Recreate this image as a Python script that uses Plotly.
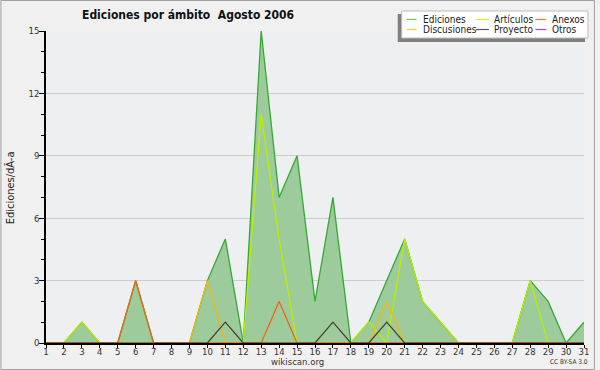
import plotly.graph_objects as go

days = list(range(1, 32))
ediciones   = [0,0,1,0,0,3,0,0,0,3,5,0,15,7,9,2,7,0,1,3,5,2,1,0,0,0,0,3,2,0,1]
articulos   = [0,0,1,0,0,0,0,0,0,0,0,0,11,5,0,0,0,0,1,0,5,2,1,0,0,0,0,3,0,0,0]
discusiones = [0,0,0,0,0,0,0,0,0,3,0,0,0,0,0,0,0,0,0,2,0,0,0,0,0,0,0,0,0,0,0]
anexos      = [0,0,0,0,0,3,0,0,0,0,0,0,0,2,0,0,0,0,0,0,0,0,0,0,0,0,0,0,0,0,0]
proyecto    = [0,0,0,0,0,0,0,0,0,0,1,0,0,0,0,0,1,0,0,1,0,0,0,0,0,0,0,0,0,0,0]
otros       = [0]*31

title = "Ediciones por ámbito  Agosto 2006"
ytitle = "Ediciones/dÃ-a"
legend_names = ["Ediciones", "Artículos", "Anexos", "Discusiones", "Proyecto", "Otros"]
legend_colors = ["#66cc66", "#ccee33", "#ff7733", "#ffcc33", "#555555", "#9944ff"]

FONT = "DejaVu Sans Condensed, DejaVu Sans, sans-serif"

W, H = 600, 370
L, R, T, B = 46, 11, 31, 27
PW, PH = W - L - R, H - T - B

def px(x):
    return (x - L) / PW

def py(y):
    return (H - B - y) / PH

fig = go.Figure()
fig.add_trace(go.Scatter(x=days, y=ediciones, mode="lines", fill="tozeroy",
                         fillcolor="#9dcb9b", line=dict(color="#33aa33", width=1.3),
                         name="Ediciones", showlegend=False))
fig.add_trace(go.Scatter(x=days, y=otros, mode="lines",
                         line=dict(color="#9944ff", width=1.2), name="Otros", showlegend=False))
fig.add_trace(go.Scatter(x=days, y=articulos, mode="lines",
                         line=dict(color="#bbee00", width=1.3), name="Artículos", showlegend=False))
fig.add_trace(go.Scatter(x=days, y=discusiones, mode="lines",
                         line=dict(color="#eebb11", width=1.3), name="Discusiones", showlegend=False))
fig.add_trace(go.Scatter(x=days, y=anexos, mode="lines",
                         line=dict(color="#ee6611", width=1.3), name="Anexos", showlegend=False))
fig.add_trace(go.Scatter(x=days, y=proyecto, mode="lines",
                         line=dict(color="#4a3a2a", width=1.2), name="Proyecto", showlegend=False))

shapes = []
annotations = []
# outer border
shapes.append(dict(type="rect", xref="paper", yref="paper",
                   x0=px(0.5), x1=px(599.5), y0=py(369.5), y1=py(0.5),
                   line=dict(color="#a0a0a0", width=1), fillcolor="rgba(0,0,0,0)", layer="above"))
# legend shadow + box
shapes.append(dict(type="rect", xref="paper", yref="paper",
                   x0=px(401), x1=px(590), y0=py(42), y1=py(14),
                   line=dict(width=0), fillcolor="#7f7f7f", layer="above"))
shapes.append(dict(type="rect", xref="paper", yref="paper",
                   x0=px(405), x1=px(593), y0=py(38), y1=py(11),
                   line=dict(color="#bbbbbb", width=1), fillcolor="#ffffff", layer="above"))
col_line = [(410, 420), (480, 493), (540, 551)]
col_text = [424, 496, 555]
row_y = [19.5, 29.5]
for i, (name, color) in enumerate(zip(legend_names, legend_colors)):
    r, c = divmod(i, 3)
    shapes.append(dict(type="line", xref="paper", yref="paper",
                       x0=px(col_line[c][0]), x1=px(col_line[c][1]),
                       y0=py(row_y[r]), y1=py(row_y[r]),
                       line=dict(color=color, width=1.2), layer="above"))
    annotations.append(dict(text=name, xref="paper", yref="paper",
                            x=px(col_text[c]), y=py(row_y[r]), xanchor="left", yanchor="middle",
                            showarrow=False, font=dict(family=FONT, size=10, color="#222222")))

annotations.append(dict(text="<b>" + title + "</b>", xref="paper", yref="paper",
                        x=px(189), y=py(15), xanchor="center", yanchor="middle",
                        showarrow=False, font=dict(family=FONT, size=12, color="#111111")))
annotations.append(dict(text="wikiscan.org", xref="paper", yref="paper",
                        x=px(300), y=py(361), xanchor="center", yanchor="middle",
                        showarrow=False, font=dict(family=FONT, size=9.5, color="#333333")))
annotations.append(dict(text="CC BY-SA 3.0", xref="paper", yref="paper",
                        x=px(574), y=py(362), xanchor="center", yanchor="middle",
                        showarrow=False, font=dict(family=FONT, size=6.5, color="#333333")))
annotations.append(dict(text=ytitle, xref="paper", yref="paper",
                        x=px(10), y=py(188), xanchor="center", yanchor="middle", textangle=-90,
                        showarrow=False, font=dict(family=FONT, size=11, color="#222222")))

fig.update_layout(
    width=W, height=H,
    margin=dict(l=L, r=R, t=T, b=B, pad=0),
    paper_bgcolor="#f0f0f0", plot_bgcolor="#eeeff1",
    font=dict(family=FONT, size=9, color="#333333"),
    shapes=shapes, annotations=annotations, showlegend=False,
)
fig.update_xaxes(range=[1, 31], tickmode="linear", tick0=1, dtick=1,
                 ticks="outside", ticklen=3, tickcolor="#000000", showgrid=False,
                 showline=True, linecolor="#000000", linewidth=2, zeroline=False,
                 layer="above traces", ticklabelstandoff=-4,
                 tickfont=dict(family=FONT, size=9.5, color="#333333"))
fig.update_yaxes(range=[0, 15], tickmode="linear", tick0=0, dtick=3,
                 ticks="outside", ticklen=5, tickcolor="#000000",
                 showgrid=True, gridcolor="#cccccc", gridwidth=1,
                 showline=True, linecolor="#000000", linewidth=1.5, zeroline=False,
                 layer="above traces", ticklabelstandoff=-2,
                 minor=dict(dtick=1, ticks="outside", ticklen=3, tickcolor="#000000", showgrid=False),
                 tickfont=dict(family=FONT, size=9.5, color="#333333"))

fig.write_html("out.html", config={"displayModeBar": False},
               post_script="document.body.style.margin='0';document.body.style.overflow='hidden';")
